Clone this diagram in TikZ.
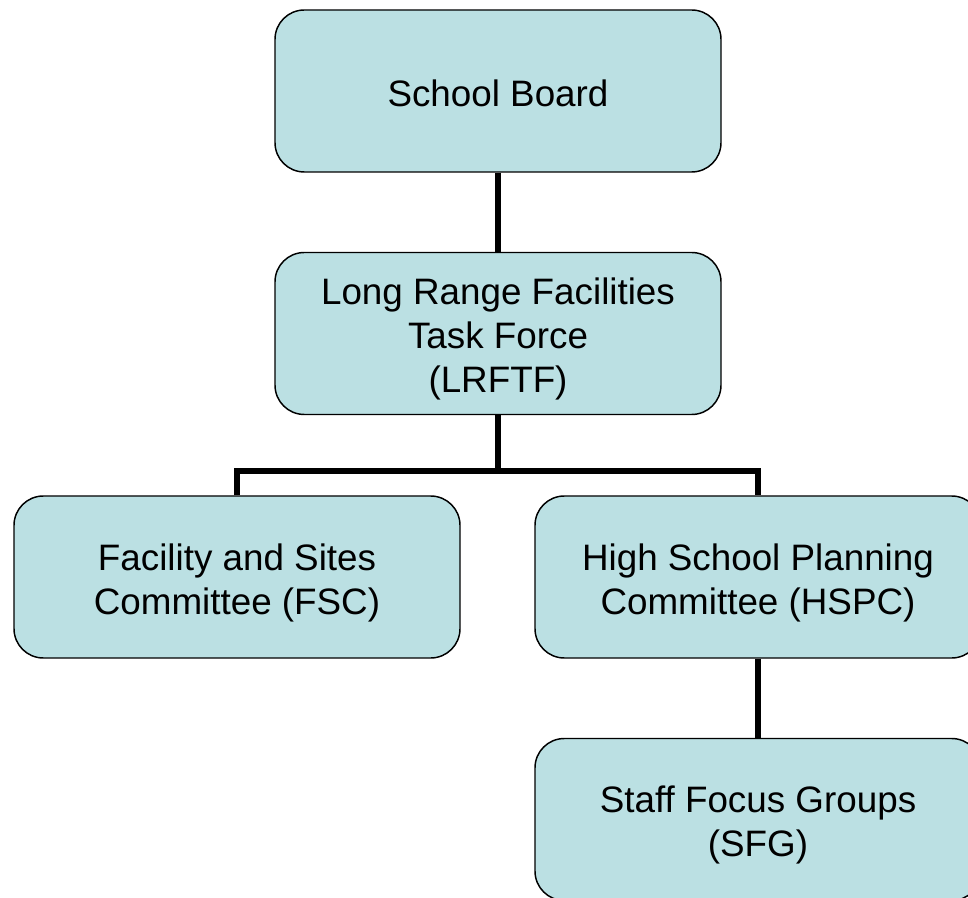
\documentclass[tikz,border=0pt]{standalone}
\usepackage{fontspec}
\setmainfont{Liberation Sans}
\usepackage{tikz}
\usetikzlibrary{calc}
\definecolor{boxfill}{RGB}{187,224,227}
\newcommand{\unittext}[1]{\raisebox{-11pt}[0pt][0pt]{\parbox[c]{320pt}{\centering\strut #1\strut}}}

\begin{document}
\begin{tikzpicture}[x=0.75pt,y=-0.75pt,
  unit/.style={draw=black, line width=1.1pt, fill=boxfill, rounded corners=22pt,
    minimum width=334.5pt, minimum height=121.5pt, inner sep=0pt,
    font=\fontsize{27.6}{33}\selectfont},
  link/.style={line width=4pt}]
\clip (0,0) rectangle (968,898);
\node[unit] (sb) at (498,91) {\unittext{School Board}};
\node[unit] (lr) at (498,333.5) {\unittext{Long Range Facilities\\Task Force\\(LRFTF)}};
\node[unit] (fsc) at (237,577) {\unittext{Facility and Sites\\Committee (FSC)}};
\node[unit] (hspc) at (758,577) {\unittext{High School Planning\\Committee (HSPC)}};
\node[unit] (sfg) at (758,819.5) {\unittext{Staff Focus Groups\\(SFG)}};
\coordinate (bus) at (498,471);
\draw[link] (sb) -- (lr);
\draw[link] (lr) -- (bus);
\draw[link] (fsc.north) |- (bus) -| (hspc.north);
\draw[link] (hspc) -- (sfg);
\end{tikzpicture}
\end{document}
